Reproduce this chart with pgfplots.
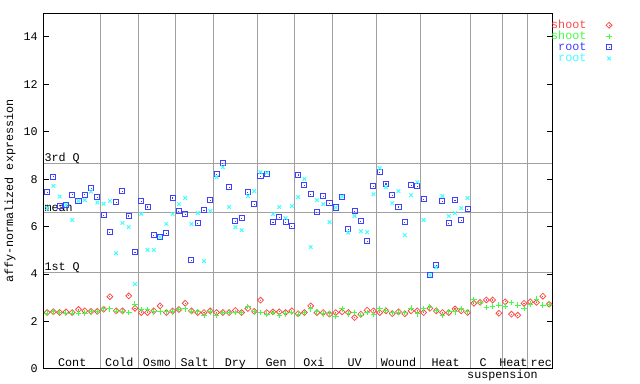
\documentclass[border=0pt]{standalone}
\usepackage{pgfplots}
\pgfplotsset{compat=1.18}
\usepackage{pgfplotstable}
\usepackage{fontspec}
\setmainfont{Liberation Mono}
\setmonofont{Liberation Mono}
\definecolor{cred}{RGB}{255,72,72}
\definecolor{cgreen}{RGB}{64,255,64}
\definecolor{cblue}{RGB}{64,64,255}
\definecolor{ccyan}{RGB}{64,255,255}
\definecolor{cgrid}{RGB}{160,160,160}
\pgfdeclareplotmark{sqdot}{%
  \pgfpathrectangle{\pgfpoint{-\pgfplotmarksize}{-\pgfplotmarksize}}{\pgfpoint{2\pgfplotmarksize}{2\pgfplotmarksize}}\pgfusepathqstroke
  \pgfpathrectangle{\pgfpoint{-0.4pt}{-0.4pt}}{\pgfpoint{0.8pt}{0.8pt}}\pgfusepathqfill}
\pgfdeclareplotmark{diadot}{%
  \pgfpathmoveto{\pgfpoint{0pt}{\pgfplotmarksize}}\pgfpathlineto{\pgfpoint{\pgfplotmarksize}{0pt}}%
  \pgfpathlineto{\pgfpoint{0pt}{-\pgfplotmarksize}}\pgfpathlineto{\pgfpoint{-\pgfplotmarksize}{0pt}}\pgfpathclose\pgfusepathqstroke
  \pgfpathrectangle{\pgfpoint{-0.4pt}{-0.4pt}}{\pgfpoint{0.8pt}{0.8pt}}\pgfusepathqfill}

\pgfplotstableread{
x y
1 2.38
2 2.41
3 2.38
4 2.41
5 2.38
6 2.51
7 2.45
8 2.43
9 2.43
10 2.52
11 3.05
12 2.45
13 2.45
14 3.08
15 2.56
16 2.38
17 2.38
18 2.45
19 2.66
20 2.38
21 2.45
22 2.51
23 2.77
24 2.45
25 2.38
26 2.38
27 2.45
28 2.38
29 2.38
30 2.38
31 2.47
32 2.38
33 2.55
34 2.43
35 2.90
36 2.38
37 2.41
38 2.41
39 2.38
40 2.45
41 2.33
42 2.38
43 2.66
44 2.38
45 2.38
46 2.31
47 2.38
48 2.41
49 2.38
50 2.17
51 2.31
52 2.48
53 2.45
54 2.38
55 2.45
56 2.33
57 2.41
58 2.33
59 2.45
60 2.45
61 2.38
62 2.56
63 2.45
64 2.38
65 2.38
66 2.53
67 2.45
68 2.38
69 2.77
70 2.81
71 2.91
72 2.91
73 2.35
74 2.83
75 2.31
76 2.27
77 2.77
78 2.83
79 2.81
80 3.07
81 2.73
}\shootA

\pgfplotstableread{
x y
1 2.36
2 2.41
3 2.38
4 2.36
5 2.36
6 2.36
7 2.36
8 2.41
9 2.41
10 2.53
11 2.53
12 2.43
13 2.43
14 2.38
15 2.73
16 2.51
17 2.51
18 2.41
19 2.41
20 2.41
21 2.41
22 2.51
23 2.53
24 2.43
25 2.41
26 2.26
27 2.41
28 2.26
29 2.38
30 2.38
31 2.38
32 2.38
33 2.63
34 2.41
35 2.38
36 2.31
37 2.38
38 2.26
39 2.33
40 2.38
41 2.31
42 2.38
43 2.53
44 2.41
45 2.33
46 2.33
47 2.23
48 2.53
49 2.33
50 2.38
51 2.26
52 2.38
53 2.31
54 2.53
55 2.48
56 2.38
57 2.38
58 2.38
59 2.56
60 2.33
61 2.53
62 2.61
63 2.48
64 2.26
65 2.41
66 2.41
67 2.53
68 2.41
69 2.91
70 2.81
71 2.60
72 2.65
73 2.69
74 2.65
75 2.81
76 2.69
77 2.55
78 2.73
79 2.95
80 2.69
81 2.73
}\shootB

\pgfplotstableread{
x y
1 7.46
2 8.10
3 6.88
4 6.91
5 7.35
6 7.10
7 7.35
8 7.63
9 7.25
10 6.49
11 5.77
12 7.04
13 7.50
14 6.45
15 4.93
16 7.08
17 6.83
18 5.64
19 5.56
20 5.73
21 7.21
22 6.66
23 6.53
24 4.59
25 6.15
26 6.70
27 7.12
28 8.22
29 8.68
30 7.67
31 6.23
32 6.36
33 7.46
34 6.95
35 8.13
36 8.23
37 6.19
38 6.40
39 6.19
40 6.02
41 8.18
42 7.75
43 7.37
44 6.61
45 7.29
46 6.99
47 6.81
48 7.27
49 5.90
50 6.66
51 6.23
52 5.39
53 7.71
54 8.30
55 7.80
56 7.33
57 6.83
58 6.19
59 7.75
60 7.71
61 7.16
62 3.96
63 4.38
64 7.08
65 6.15
66 7.12
67 6.28
68 6.74
}\rootA

\pgfplotstableread{
x y
1 6.78
2 7.72
3 7.27
4 6.92
5 6.28
6 7.09
7 7.12
8 7.48
9 7.02
10 6.97
11 7.09
12 4.88
13 6.16
14 5.98
15 3.58
16 6.54
17 5.02
18 5.02
19 5.56
20 6.12
21 6.54
22 6.95
23 7.21
24 6.11
25 6.57
26 4.55
27 6.66
28 8.09
29 8.51
30 6.83
31 5.98
32 5.85
33 7.29
34 7.50
35 8.30
36 8.27
37 6.53
38 6.83
39 6.36
40 6.87
41 7.25
42 8.01
43 5.14
44 7.12
45 6.95
46 6.19
47 6.81
48 7.27
49 5.75
50 6.45
51 5.81
52 5.77
53 7.37
54 8.47
55 7.67
56 6.99
57 7.50
58 5.64
59 7.33
60 7.88
61 6.28
62 3.96
63 4.29
64 7.29
65 6.45
66 6.57
67 6.78
68 7.21
}\rootB

\begin{document}
\begin{tikzpicture}
\path[use as bounding box] (0,0) rectangle (480pt,288pt);
\begin{axis}[
  at={(33pt,11.25pt)}, anchor=south west,
  scale only axis, width=381.2pt, height=266.8pt,
  xmin=0.5, xmax=81.5, ymin=0, ymax=15,
  axis line style={black, line width=0.75pt},
  font=\fontsize{8.8}{10}\selectfont,
  /pgf/number format/assume math mode=true,
  xtick={9.5,15.5,21.5,27.5,34.5,40.5,46.5,53.5,60.5,68.5,73.5,77.5},
  xticklabels={},
  xmajorgrids=true,
  major x tick style={draw=none},
  ytick={0,2,...,14},
  ytick pos=both,
  tick align=inside,
  major tick length=3.75pt,
  y tick style={black, line width=0.75pt},
  yticklabel style={inner sep=0pt, xshift=-4.5pt},
  extra y ticks={4.08,6.61,8.65},
  extra y tick labels={},
  extra y tick style={ymajorgrids=true, major tick length=0pt},
  grid style={cgrid, line width=0.75pt},
  every axis y label/.style={at={(axis description cs:0,0.5)}, xshift=-25.5pt, rotate=90, anchor=center},
  ylabel={affy-normalized expression},
  clip=false,
  legend style={at={(axis description cs:1,1)}, anchor=north west, xshift=-1pt, yshift=-5.6pt,
    draw=none, fill=none, inner sep=0pt, row sep=1.9pt,
    font=\fontsize{8.8}{10}\selectfont,
    nodes={inner sep=0pt, text height=5.6pt, text depth=0.8pt}},
  legend cell align=right,
  legend plot pos=right,
  legend image code/.code={\path[draw=none, fill=none] (0,-2pt) rectangle (20pt,2pt); \draw[#1] plot coordinates {(17pt,0)};},
]
\addplot[only marks, mark=diadot, mark size=2.2pt, cred, line width=0.6pt] table {\shootA};
\addlegendentry{\textcolor{cred}{shoot}}
\addplot[only marks, mark=+, mark size=2.1pt, cgreen, line width=0.75pt] table {\shootB};
\addlegendentry{\textcolor{cgreen}{shoot}}
\addplot[only marks, mark=sqdot, mark size=1.9pt, cblue, line width=0.75pt] table {\rootA};
\addlegendentry{\textcolor{cblue}{root}}
\addplot[only marks, mark=x, mark size=1.9pt, ccyan, line width=0.75pt] table {\rootB};
\addlegendentry{\textcolor{ccyan}{root}}

\node[anchor=base west, inner sep=0pt] at (axis cs:0.55,8.65) [yshift=1.5pt] {3rd Q};
\node[anchor=base west, inner sep=0pt] at (axis cs:0.55,6.61) [yshift=0.3pt] {mean};
\node[anchor=base west, inner sep=0pt] at (axis cs:0.55,4.08) [yshift=1.2pt] {1st Q};

\node[anchor=base, inner sep=0pt] at (axis cs:5,0) [yshift=2pt] {Cont};
\node[anchor=base, inner sep=0pt] at (axis cs:12.5,0) [yshift=2pt] {Cold};
\node[anchor=base, inner sep=0pt] at (axis cs:18.5,0) [yshift=2pt] {Osmo};
\node[anchor=base, inner sep=0pt] at (axis cs:24.5,0) [yshift=2pt] {Salt};
\node[anchor=base, inner sep=0pt] at (axis cs:31,0) [yshift=2pt] {Dry};
\node[anchor=base, inner sep=0pt] at (axis cs:37.5,0) [yshift=2pt] {Gen};
\node[anchor=base, inner sep=0pt] at (axis cs:43.5,0) [yshift=2pt] {Oxi};
\node[anchor=base, inner sep=0pt] at (axis cs:50,0) [yshift=2pt] {UV};
\node[anchor=base, inner sep=0pt] at (axis cs:57,0) [yshift=2pt] {Wound};
\node[anchor=base, inner sep=0pt] at (axis cs:64.5,0) [yshift=2pt] {Heat};
\node[anchor=base, inner sep=0pt] at (axis cs:70.5,0) [yshift=2pt] {C};
\node[anchor=base, inner sep=0pt] at (axis cs:75.3,0) [yshift=2pt] {Heat};
\node[anchor=base, inner sep=0pt] at (axis cs:79.75,0) [yshift=2pt] {rec};
\node[anchor=base, inner sep=0pt] at (axis cs:73.56,0) [yshift=-7.5pt] {suspension};
\end{axis}
\end{tikzpicture}
\end{document}
